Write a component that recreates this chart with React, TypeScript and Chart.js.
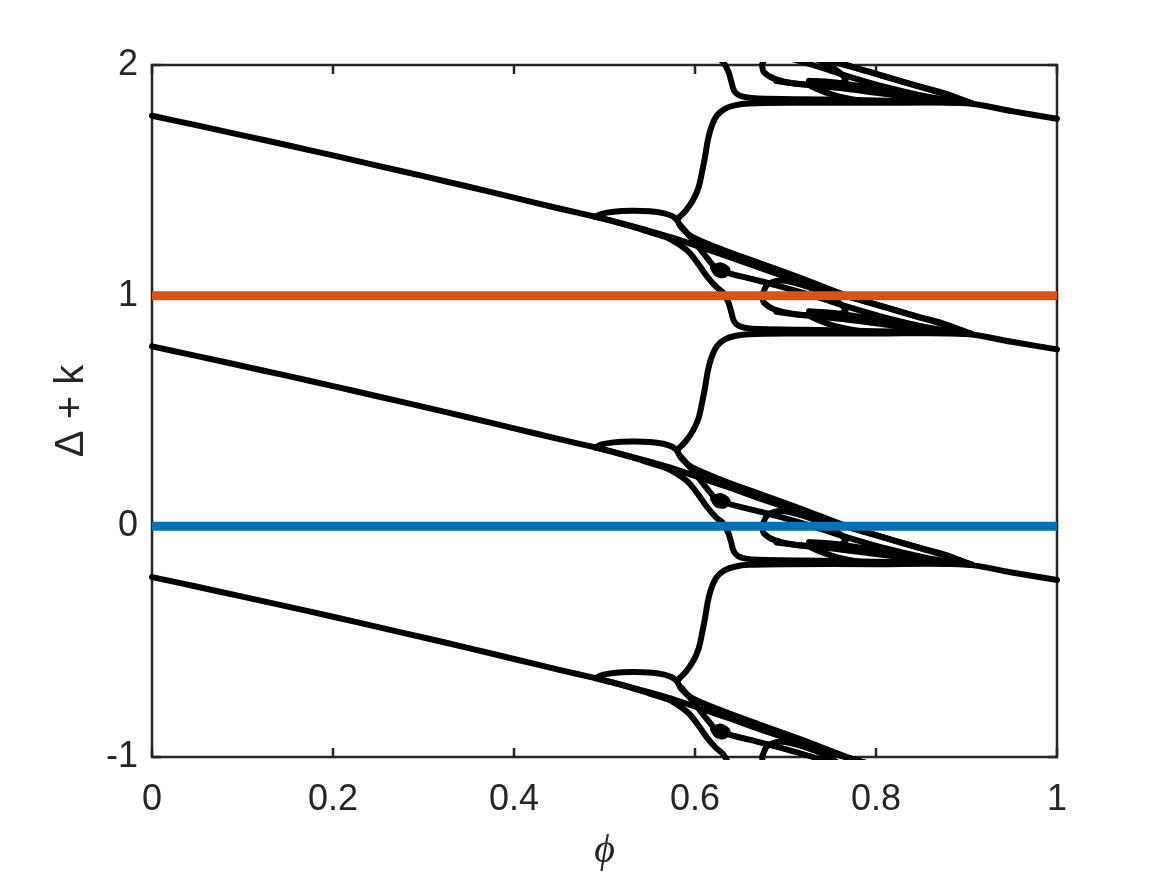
import React, { useEffect, useRef } from 'react';
import { Chart, registerables } from 'chart.js';

Chart.register(...registerables);

// ---------- axes ----------
const X_TICKS = [0, 0.2, 0.4, 0.6, 0.8, 1];
const X_TICK_LABELS = ['0', '0.2', '0.4', '0.6', '0.8', '1'];
const Y_TICKS = [-1, 0, 1, 2];
const Y_TICK_LABELS = ['-1', '0', '1', '2'];

// ---------- horizontal reference lines ----------
const REF_X = [0, 1];
const BLUE_Y = [0, 0];
const ORANGE_Y = [1, 1];

// ---------- branch shapes of one period (shift k = 0) ----------
const MAIN_X = [0, 0.05, 0.1, 0.15, 0.2, 0.25, 0.3, 0.35, 0.4, 0.45, 0.49];
const MAIN_Y = [0.78, 0.738, 0.695, 0.652, 0.608, 0.563, 0.518, 0.472, 0.425, 0.378, 0.342];

const LENS_X = [0.49, 0.497, 0.51, 0.53, 0.55, 0.565, 0.575, 0.58];
const LENS_Y = [0.342, 0.355, 0.364, 0.368, 0.366, 0.358, 0.345, 0.33];

const SCURVE_X = [0.58, 0.59, 0.598, 0.604, 0.608, 0.611, 0.614, 0.618, 0.624, 0.633, 0.645, 0.66, 0.7, 0.8, 0.9, 0.95, 1.0];
const SCURVE_Y = [0.33, 0.37, 0.416, 0.47, 0.54, 0.6, 0.67, 0.73, 0.78, 0.81, 0.826, 0.833, 0.836, 0.836, 0.834, 0.8, 0.767];

const LOWER_X = [0.49, 0.51, 0.53, 0.55, 0.57, 0.585, 0.594, 0.605, 0.613, 0.623, 0.631, 0.637, 0.64, 0.643, 0.648, 0.656, 0.67, 0.75, 0.85, 0.905];
const LOWER_Y = [0.342, 0.322, 0.3, 0.275, 0.25, 0.215, 0.186, 0.13, 0.085, 0.04, 0.013, -0.03, -0.07, -0.11, -0.13, -0.14, -0.145, -0.15, -0.158, -0.165];

const UPPER_X = [0.58, 0.585, 0.597, 0.63, 0.672, 0.72, 0.768, 0.81, 0.85, 0.875, 0.905];
const UPPER_Y = [0.33, 0.295, 0.255, 0.2, 0.14, 0.072, 0.0, -0.05, -0.095, -0.122, -0.165];

const MID_X = [0.49, 0.52, 0.55, 0.58, 0.61, 0.64, 0.672, 0.71, 0.75, 0.8, 0.84, 0.875, 0.905];
const MID_Y = [0.342, 0.312, 0.28, 0.245, 0.205, 0.165, 0.12, 0.07, 0.018, -0.038, -0.085, -0.125, -0.165];

const INNER_X = [0.585, 0.6, 0.612, 0.622, 0.635, 0.66, 0.69, 0.73, 0.77, 0.81, 0.86, 0.905];
const INNER_Y = [0.3, 0.23, 0.17, 0.125, 0.1, 0.075, 0.045, 0.0, -0.05, -0.095, -0.14, -0.165];

const INNER2_X = [0.69, 0.72, 0.76, 0.8, 0.84, 0.875, 0.905];
const INNER2_Y = [-0.07, -0.085, -0.1, -0.12, -0.14, -0.155, -0.165];

const LOOP1_X = [0.674, 0.68, 0.695, 0.72, 0.745, 0.762, 0.766, 0.745, 0.71, 0.688, 0.676, 0.674];
const LOOP1_Y = [0.0, 0.048, 0.066, 0.045, 0.005, -0.04, -0.07, -0.085, -0.08, -0.06, -0.03, 0.0];

const LOOP2_X = [0.726, 0.75, 0.78, 0.81, 0.828, 0.818, 0.79, 0.76, 0.74, 0.727, 0.726];
const LOOP2_Y = [-0.068, -0.074, -0.09, -0.11, -0.137, -0.155, -0.157, -0.137, -0.112, -0.088, -0.068];

const KNOT_X = [0.62, 0.628, 0.636, 0.632, 0.624, 0.62];
const KNOT_Y = [0.12, 0.132, 0.112, 0.09, 0.095, 0.12];

// the pattern repeats with period 1 in Δ + k
const BRANCH_SHIFTS = [-1, 0, 1, 2];

const SHAPES = [
  { x: MAIN_X, y: MAIN_Y },
  { x: LENS_X, y: LENS_Y },
  { x: SCURVE_X, y: SCURVE_Y },
  { x: LOWER_X, y: LOWER_Y },
  { x: UPPER_X, y: UPPER_Y },
  { x: MID_X, y: MID_Y },
  { x: INNER_X, y: INNER_Y },
  { x: INNER2_X, y: INNER2_Y },
  { x: LOOP1_X, y: LOOP1_Y },
  { x: LOOP2_X, y: LOOP2_Y },
  { x: KNOT_X, y: KNOT_Y },
];

const AXIS_COLOR = '#262626';
const TICK_FONT = { family: '"Liberation Sans", Arial, Helvetica, sans-serif', size: 36 };

const boxPlugin = {
  id: 'matlabBox',
  beforeDatasetsDraw(chart: any) {
    const { ctx, chartArea, scales } = chart;
    const { left, right, top, bottom } = chartArea;
    const xs = scales.x;
    const ys = scales.y;
    ctx.save();
    ctx.strokeStyle = AXIS_COLOR;
    ctx.lineWidth = 2.5;
    ctx.strokeRect(left, top, right - left, bottom - top);
    const L = 9;
    ctx.beginPath();
    for (const v of X_TICKS) {
      const px = xs.getPixelForValue(v);
      ctx.moveTo(px, bottom);
      ctx.lineTo(px, bottom - L);
      ctx.moveTo(px, top);
      ctx.lineTo(px, top + L);
    }
    for (const v of Y_TICKS) {
      const py = ys.getPixelForValue(v);
      ctx.moveTo(left, py);
      ctx.lineTo(left + L, py);
      ctx.moveTo(right, py);
      ctx.lineTo(right - L, py);
    }
    ctx.stroke();
    ctx.restore();
  },
};

export default function App() {
  const canvasRef = useRef<HTMLCanvasElement | null>(null);

  useEffect(() => {
    document.body.style.margin = '0';
    const canvas = canvasRef.current;
    if (!canvas) return;

    const datasets: any[] = [];
    datasets.push({
      data: REF_X.map((x, i) => ({ x, y: ORANGE_Y[i] })),
      borderColor: '#D95319',
      borderWidth: 9,
      borderCapStyle: 'butt',
      showLine: true,
      pointRadius: 0,
    });
    datasets.push({
      data: REF_X.map((x, i) => ({ x, y: BLUE_Y[i] })),
      borderColor: '#0072BD',
      borderWidth: 9,
      borderCapStyle: 'butt',
      showLine: true,
      pointRadius: 0,
    });
    for (const k of BRANCH_SHIFTS) {
      for (const s of SHAPES) {
        datasets.push({
          data: s.x.map((x, i) => ({ x, y: s.y[i] + k })),
          borderColor: '#000000',
          borderWidth: 6,
          borderCapStyle: 'round',
          borderJoinStyle: 'round',
          tension: 0.3,
          showLine: true,
          pointRadius: 0,
          clip: 3,
        });
      }
    }

    const chart = new Chart(canvas, {
      type: 'scatter',
      data: { datasets },
      plugins: [boxPlugin],
      options: {
        responsive: false,
        animation: false,
        events: [],
        layout: { padding: { left: 0, top: 65, right: 110, bottom: 0 } },
        plugins: { legend: { display: false }, tooltip: { enabled: false } },
        scales: {
          x: {
            type: 'linear',
            min: 0,
            max: 1,
            grid: { display: false, drawTicks: false },
            border: { display: false },
            afterBuildTicks: (scale: any) => {
              scale.ticks = X_TICKS.map((v) => ({ value: v }));
            },
            afterFit: (scale: any) => {
              scale.height = 118;
            },
            ticks: {
              autoSkip: false,
              maxRotation: 0,
              padding: 21,
              color: AXIS_COLOR,
              font: TICK_FONT,
              callback: (_v: any, i: number) => X_TICK_LABELS[i],
            },
            title: {
              display: true,
              text: 'ϕ',
              color: AXIS_COLOR,
              font: { family: '"Liberation Serif", "DejaVu Serif", serif', size: 40, style: 'italic' },
              padding: { top: 0, bottom: 0 },
            },
          },
          y: {
            type: 'linear',
            min: -1,
            max: 2,
            grid: { display: false, drawTicks: false },
            border: { display: false },
            afterBuildTicks: (scale: any) => {
              scale.ticks = Y_TICKS.map((v) => ({ value: v }));
            },
            afterFit: (scale: any) => {
              scale.width = 152;
            },
            ticks: {
              autoSkip: false,
              padding: 14,
              color: AXIS_COLOR,
              font: TICK_FONT,
              callback: (_v: any, i: number) => Y_TICK_LABELS[i],
            },
            title: {
              display: true,
              text: 'Δ + k',
              color: AXIS_COLOR,
              font: { family: '"Liberation Sans", Arial, sans-serif', size: 40 },
              padding: { top: 48, bottom: 0 },
            },
          },
        },
      },
    });

    return () => {
      chart.destroy();
    };
  }, []);

  return (
    <div style={{ width: 1167, height: 875, background: '#ffffff' }}>
      <canvas ref={canvasRef} width={1167} height={875} style={{ display: 'block' }} />
    </div>
  );
}
